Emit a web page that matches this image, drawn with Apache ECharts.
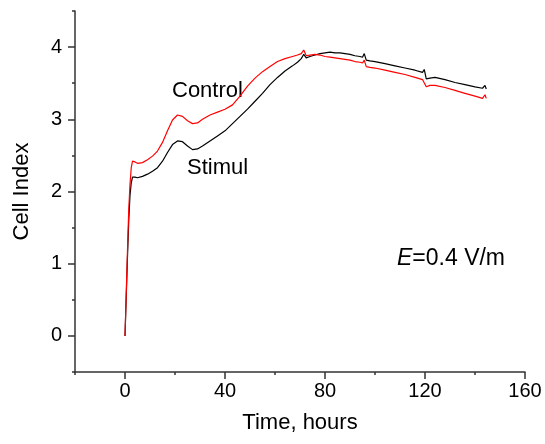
<!DOCTYPE html>
<html><head><meta charset="utf-8">
<script src="https://cdn.jsdelivr.net/npm/echarts@6/dist/echarts.min.js"></script>
<style>html,body{margin:0;padding:0;background:#fff}#c{width:545px;height:444px}</style>
</head><body><div id="c"></div>
<script>
const hours = [0,0.5,1,1.5,2,2.5,3,4,5,7,9,11,13,15,17,19,21,23,25,27,29,31,34,37,40,43,46,49,52,55,58,61,64,67,69,70.5,71.5,72.5,74,76,78,80,82,84,86,88,90,92,94,95,95.7,96.5,98,100,104,108,112,116,119,119.7,120.5,122,124,128,132,136,140,143,144,144.5];
const control = [0,0.6,1.2,1.75,2.1,2.33,2.42,2.41,2.39,2.40,2.44,2.49,2.56,2.68,2.84,2.99,3.06,3.04,2.98,2.94,2.95,3.0,3.06,3.10,3.14,3.20,3.32,3.46,3.57,3.66,3.73,3.80,3.84,3.87,3.89,3.91,3.96,3.88,3.89,3.90,3.89,3.87,3.86,3.85,3.84,3.83,3.82,3.80,3.79,3.78,3.82,3.73,3.72,3.71,3.68,3.65,3.62,3.58,3.55,3.56,3.45,3.47,3.47,3.44,3.40,3.36,3.32,3.29,3.34,3.29];
const stimul = [0,0.55,1.1,1.6,1.95,2.12,2.20,2.20,2.19,2.21,2.24,2.28,2.33,2.42,2.54,2.65,2.70,2.69,2.63,2.58,2.59,2.63,2.70,2.77,2.84,2.94,3.04,3.14,3.25,3.36,3.48,3.58,3.67,3.74,3.79,3.84,3.90,3.85,3.87,3.89,3.91,3.92,3.93,3.92,3.92,3.91,3.90,3.88,3.87,3.86,3.91,3.82,3.81,3.80,3.77,3.74,3.71,3.68,3.65,3.69,3.56,3.57,3.58,3.55,3.51,3.48,3.45,3.43,3.47,3.42];
const xMajor = [0,40,80,120,160];
const xMinor = [-20,20,60,100,140];
const yMajor = [0,1,2,3,4];
const yMinor = [-0.5,0.5,1.5,2.5,3.5,4.5];
const seriesNames = ['Control','Stimul'];

const FONT = 'Liberation Sans, Arial, sans-serif';
const axisCol = '#333';
const chart = echarts.init(document.getElementById('c'));
const grid = {left:75, right:20, top:11, bottom:72};
chart.setOption({
  animation:false,
  grid: grid,
  xAxis: [{
    type:'value', min:-20, max:160, position:'bottom',
    name:'Time, hours', nameLocation:'middle', nameGap:40,
    nameTextStyle:{fontFamily:FONT, fontSize:22, color:'#000'},
    axisLine:{show:true, onZero:false, lineStyle:{color:axisCol, width:1.5}},
    axisTick:{show:true, inside:false, length:7, customValues:xMajor, lineStyle:{color:axisCol, width:1.5}},
    axisLabel:{show:true, customValues:xMajor, margin:9, fontFamily:FONT, fontSize:20, color:'#000'},
    splitLine:{show:false}
  },{
    type:'value', min:-20, max:160, position:'bottom',
    axisLine:{show:false, onZero:false},
    axisTick:{show:true, length:3, customValues:xMinor, lineStyle:{color:axisCol, width:1.5}},
    axisLabel:{show:false}, splitLine:{show:false}
  }],
  yAxis: [{
    type:'value', min:-0.5, max:4.5, position:'left',
    name:'Cell Index', nameLocation:'middle', nameGap:42,
    nameTextStyle:{fontFamily:FONT, fontSize:22, color:'#000'},
    axisLine:{show:true, onZero:false, lineStyle:{color:axisCol, width:1.5}},
    axisTick:{show:true, length:7, customValues:yMajor, lineStyle:{color:axisCol, width:1.5}},
    axisLabel:{show:true, customValues:yMajor, margin:13, fontFamily:FONT, fontSize:20, color:'#000'},
    splitLine:{show:false}
  },{
    type:'value', min:-0.5, max:4.5, position:'left',
    axisLine:{show:false, onZero:false},
    axisTick:{show:true, length:3, customValues:yMinor, lineStyle:{color:axisCol, width:1.5}},
    axisLabel:{show:false}, splitLine:{show:false}
  }],
  series: [
    {name:seriesNames[1], type:'line', data:hours.map((h,i)=>[h,stimul[i]]), showSymbol:false, smooth:false,
     lineStyle:{color:'#000', width:1.2}, itemStyle:{color:'#000'}, z:2},
    {name:seriesNames[0], type:'line', data:hours.map((h,i)=>[h,control[i]]), showSymbol:false, smooth:false,
     lineStyle:{color:'#ff0000', width:1.2}, itemStyle:{color:'#ff0000'}, z:3}
  ],
  graphic: [
    {type:'text', left:172, top:80, style:{text:'Control', font:'22px '+FONT, fill:'#000'}},
    {type:'text', left:187, top:157, style:{text:'Stimul', font:'22px '+FONT, fill:'#000'}},
    {type:'text', left:397, top:247, style:{
      text:'{i|E}=0.4 V/m',
      rich:{i:{fontStyle:'italic', fontSize:23, fontFamily:FONT, fill:'#000'}},
      font:'23px '+FONT, fill:'#000'}}
  ]
});
</script></body></html>
